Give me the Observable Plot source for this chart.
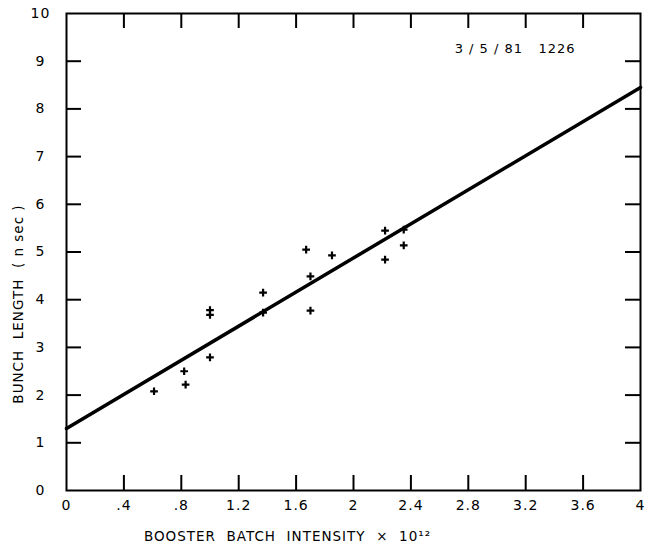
<!DOCTYPE html>
<html>
<head>
<meta charset="utf-8">
<script src="https://cdn.jsdelivr.net/npm/d3@7"></script>
<script src="https://cdn.jsdelivr.net/npm/@observablehq/plot@0.6"></script>
<style>
  html, body { margin: 0; padding: 0; background: #fff; }
  #chart svg { display: block; }
  #chart svg text { letter-spacing: 1px; }
</style>
</head>
<body>
<div id="chart"></div>
<script>
// Data
const intensity = [0.61, 0.82, 0.83, 1.0, 1.0, 1.0, 1.37, 1.37, 1.67, 1.70, 1.70, 1.85, 2.22, 2.22, 2.35, 2.35];
const bunchLength = [2.08, 2.50, 2.22, 2.79, 3.78, 3.68, 4.15, 3.73, 5.05, 4.49, 3.77, 4.93, 5.45, 4.84, 5.47, 5.14];
const fitX = [0, 4];
const fitY = [1.3, 8.45];
const xTicks = [0, 0.4, 0.8, 1.2, 1.6, 2, 2.4, 2.8, 3.2, 3.6, 4];
const xTickLabels = ["0", ".4", ".8", "1.2", "1.6", "2", "2.4", "2.8", "3.2", "3.6", "4"];
const yTicks = [0, 1, 2, 3, 4, 5, 6, 7, 8, 9, 10];
const yTickLabels = ["0", "1", "2", "3", "4", "5", "6", "7", "8", "9", "10"];
const stamp = "3 / 5 / 81   1226";
const xTitle = "BOOSTER  BATCH  INTENSITY  ×  10¹²";
const yTitle = "BUNCH  LENGTH  ( n sec )";

const points = intensity.map((x, i) => ({x, y: bunchLength[i]}));
const fit = fitX.map((x, i) => ({x, y: fitY[i]}));
const innerX = xTicks.slice(1, -1);
const innerY = yTicks.slice(1, -1);
const xLab = new Map(xTicks.map((t, i) => [t, xTickLabels[i]]));
const yLab = new Map(yTicks.map((t, i) => [t, yTickLabels[i]]));

const W = 645, H = 548, mL = 66, mR = 5, mT = 13, mB = 58;
const fw = W - mL - mR, fh = H - mT - mB, tl = 15;

const chart = Plot.plot({
  width: W,
  height: H,
  marginLeft: mL,
  marginRight: mR,
  marginTop: mT,
  marginBottom: mB,
  style: {fontFamily: "'DejaVu Sans', sans-serif", fontSize: "13px", color: "#000", background: "#fff"},
  x: {domain: [0, 4]},
  y: {domain: [0, 10]},
  marks: [
    Plot.axisX(xTicks, {tickSize: 0, tickPadding: 10, tickFormat: d => xLab.get(d), fontSize: 14, label: null}),
    Plot.axisY(yTicks, {tickSize: 0, tickPadding: 26, tickFormat: d => yLab.get(d), fontSize: 14, label: null, textAnchor: "middle"}),
    Plot.tickX(innerX, {x: d => d, insetTop: fh - tl, strokeWidth: 2}),
    Plot.tickX(innerX, {x: d => d, insetBottom: fh - tl, strokeWidth: 2}),
    Plot.tickY(innerY, {y: d => d, insetRight: fw - tl, strokeWidth: 2}),
    Plot.tickY(innerY, {y: d => d, insetLeft: fw - tl, strokeWidth: 2}),
    Plot.frame({stroke: "#000", strokeWidth: 2}),
    Plot.line(fit, {x: "x", y: "y", strokeWidth: 3.5, stroke: "#000"}),
    Plot.dot(points, {x: "x", y: "y", symbol: "plus", r: 2.6, strokeWidth: 2.2, stroke: "#000"}),
    Plot.text([stamp], {text: d => d, frameAnchor: "top-right", textAnchor: "end", dx: -65, dy: 30, fontSize: 13}),
    Plot.text([xTitle], {text: d => d, frameAnchor: "bottom", dx: -66, dy: 50, fontSize: 13.5}),
    Plot.text([yTitle], {text: d => d, frameAnchor: "left", textAnchor: "middle", rotate: -90, dx: -48, dy: 52, fontSize: 13.5})
  ]
});
document.getElementById("chart").appendChild(chart);
</script>
</body>
</html>
